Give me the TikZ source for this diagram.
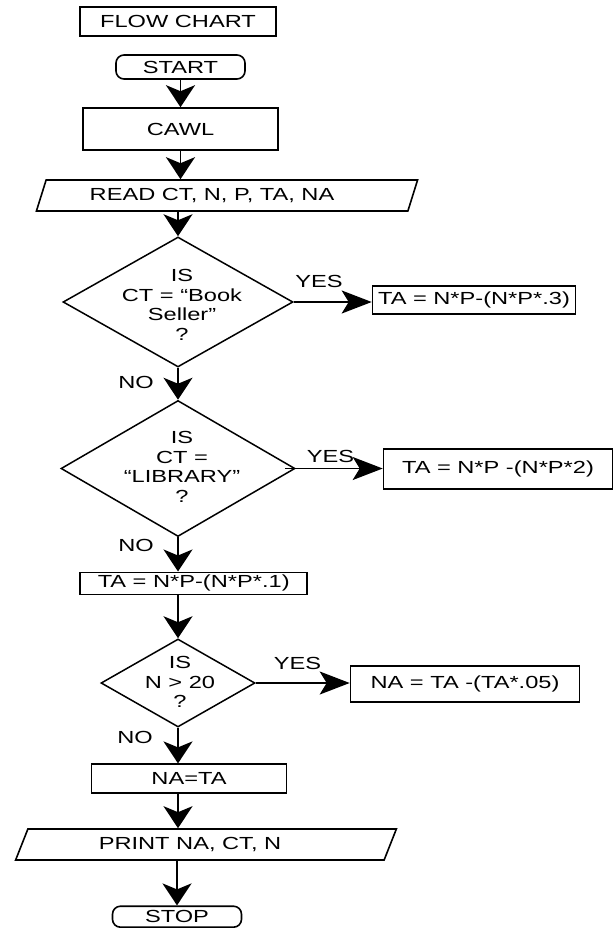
\documentclass[tikz,border=0pt]{standalone}
\usepackage{fontspec}
\setmainfont{Liberation Sans}[FakeStretch=1.35]
\usetikzlibrary{shapes.geometric,arrows.meta}
\newcommand{\fsz}{\fontsize{17.5}{19.5}\selectfont}
\begin{document}
\begin{tikzpicture}[x=1pt,y=-1pt,
  box/.style={draw,line width=1.6pt,inner sep=0pt,font=\fsz},
  termbox/.style={box,rounded corners=8pt},
  iobox/.style={box,trapezium,trapezium left angle=63,trapezium right angle=117,
    trapezium stretches=true,minimum width=382pt,minimum height=31pt},
  decision/.style={draw,line width=1.5pt,diamond,inner sep=0pt},
  lbl/.style={font=\fsz,align=center,inner sep=0pt},
  arr/.style={line width=1.9pt,-{Stealth[length=22pt,width=29pt,inset=6pt]}},
  yesarr/.style={line width=1.9pt,-{Stealth[length=30pt,width=23pt,inset=7pt]}}]
\useasboundingbox (0,0) rectangle (614,928);
\node[box,minimum width=196pt,minimum height=29pt] (title) at (178,21.5) {FLOW CHART};
\node[termbox,minimum width=129pt,minimum height=24pt] (start) at (180.5,67) {START};
\node[box,minimum width=195pt,minimum height=42pt] (cawl) at (180.5,129) {CAWL};
\node[iobox] (read) at (227,195.5) {READ CT, N, P, TA, NA\hspace*{30pt}};
\node[decision,minimum width=230pt,minimum height=130pt] (d1) at (178,302) {};
\node[lbl] (d1txt) at (182,305) {IS\\CT = “Book\\Seller”\\?};
\node[lbl] (yes1) at (319,281) {YES};
\node[box,minimum width=203pt,minimum height=28pt] (ta3) at (474,300) {TA = N*P-(N*P*.3)};
\node[lbl] (no1) at (136,382) {NO};
\node[decision,minimum width=234pt,minimum height=136pt] (d2) at (178,468.5) {};
\node[lbl] (d2txt) at (182,467) {IS\\CT =\\“LIBRARY”\\?};
\node[lbl] (yes2) at (330.5,456.5) {YES};
\node[box,minimum width=229pt,minimum height=40pt] (ta2) at (498,469) {TA = N*P -(N*P*2)};
\node[lbl] (no2) at (136,545.5) {NO};
\node[box,minimum width=227pt,minimum height=22pt] (ta1) at (193.7,583.3) {TA = N*P-(N*P*.1)};
\node[decision,minimum width=154pt,minimum height=88pt] (d3) at (178,683) {};
\node[lbl] (d3txt) at (180,682) {IS\\N > 20\\?};
\node[lbl] (yes3) at (297.5,663.5) {YES};
\node[box,minimum width=229pt,minimum height=36pt] (na05) at (465,684) {NA = TA -(TA*.05)};
\node[lbl] (no3) at (135,737.5) {NO};
\node[box,minimum width=195pt,minimum height=29pt] (nata) at (189,778.7) {NA=TA};
\node[iobox] (print) at (206,844.5) {PRINT NA, CT, N\hspace*{32pt}};
\node[termbox,minimum width=129pt,minimum height=21pt] (stop) at (177,916.7) {STOP};
\draw[arr] (start) -- (cawl);
\draw[arr] (cawl) -- (cawl.south |- read.north);
\draw[arr] (d1.north |- read.south) -- (d1.north);
\draw[arr] (d1) -- (d2);
\draw[yesarr] (d1.east) -- (d1.east -| ta3.west);
\draw[yesarr,shorten <=-11pt] (d2.east) -- (d2.east -| ta2.west);
\draw[arr] (d2.south) -- (d2.south |- ta1.north);
\draw[arr] (d3.north |- ta1.south) -- (d3.north);
\draw[yesarr] (d3.east) -- (d3.east -| na05.west);
\draw[arr] (d3.south) -- (d3.south |- nata.north);
\draw[arr] (d3.south |- nata.south) -- (d3.south |- print.north);
\draw[arr] (stop.north |- print.south) -- (stop.north);
\end{tikzpicture}
\end{document}
